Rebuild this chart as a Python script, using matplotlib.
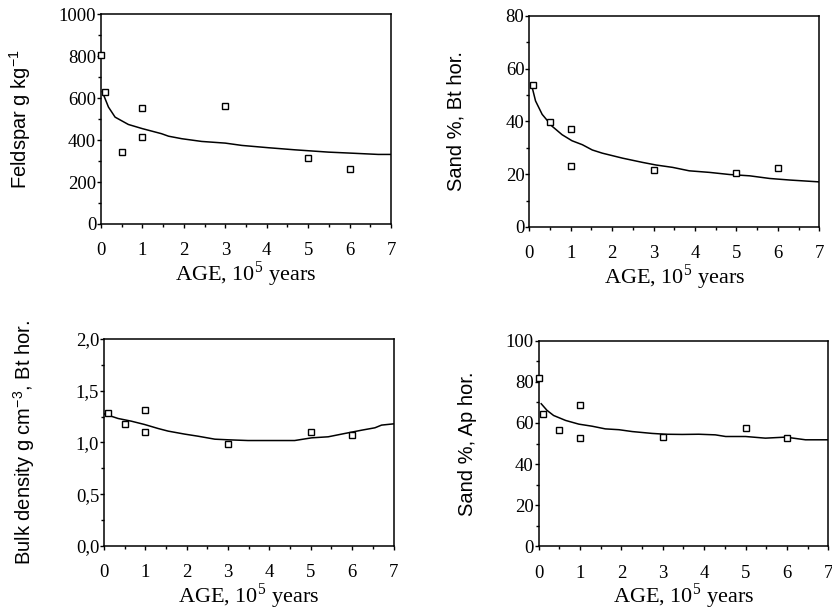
import numpy as np
import matplotlib
matplotlib.use("Agg")
import matplotlib.pyplot as plt
from matplotlib.ticker import MultipleLocator, FuncFormatter

plt.rcParams['mathtext.fontset'] = 'custom'
plt.rcParams['mathtext.rm'] = 'Liberation Serif'
plt.rcParams['mathtext.sf'] = 'Liberation Sans'

# measured samples (age in 10^5 years)
feld_age = [0.0, 0.1, 0.5, 1.0, 1.0, 3.0, 5.0, 6.0]
feld_val = [807, 632, 343, 555, 416, 563, 314, 262]
feld_fit_age = [0.03, 0.18, 0.34, 0.66, 1.0, 1.46, 1.63, 1.95, 2.43, 3.0, 3.4, 4.04, 4.68, 5.49, 6.05, 6.69, 7.0]
feld_fit_val = [632, 558, 510, 475, 455, 431, 419, 407, 394, 386, 375, 364, 354, 343, 338, 332, 332]

sandbt_age = [0.1, 0.5, 1.0, 1.0, 3.0, 5.0, 6.0]
sandbt_val = [53.9, 39.8, 37.3, 23.0, 21.5, 20.3, 22.2]
sandbt_fit_age = [0.06, 0.15, 0.31, 0.55, 0.79, 1.03, 1.28, 1.52, 1.76, 2.25, 2.73, 3.06, 3.46, 3.86,
                  4.35, 4.83, 5.32, 5.8, 6.29, 7.0]
sandbt_fit_val = [53.5, 47.8, 42.7, 38.2, 35.0, 32.7, 31.2, 29.2, 28.0, 26.1, 24.5, 23.5, 22.6, 21.3,
                  20.7, 19.9, 19.4, 18.4, 17.8, 17.1]

bulk_age = [0.1, 0.5, 1.0, 1.0, 3.0, 5.0, 6.0]
bulk_val = [1.284, 1.18, 1.313, 1.097, 0.984, 1.097, 1.071]
bulk_fit_age = [0.0, 0.34, 0.66, 0.98, 1.31, 1.55, 1.95, 2.27, 2.68, 3.0, 3.48, 4.05, 4.61, 5.02, 5.42,
                5.82, 6.23, 6.55, 6.71, 7.0]
bulk_fit_val = [1.277, 1.232, 1.206, 1.174, 1.135, 1.11, 1.081, 1.061, 1.032, 1.026, 1.019, 1.019, 1.019,
                1.045, 1.055, 1.087, 1.119, 1.142, 1.168, 1.18]

sandap_age = [0.0, 0.1, 0.5, 1.0, 1.0, 3.0, 5.0, 6.0]
sandap_val = [82.0, 64.1, 56.5, 68.8, 52.6, 53.2, 57.5, 52.8]
sandap_fit_age = [0.06, 0.2, 0.36, 0.65, 0.97, 1.29, 1.61, 1.94, 2.26, 2.74, 3.06, 3.47, 3.87, 4.27, 4.52,
                  5.0, 5.48, 5.97, 6.45, 7.0]
sandap_fit_val = [69.3, 66.1, 63.6, 61.2, 59.4, 58.4, 57.1, 56.7, 55.8, 54.9, 54.5, 54.4, 54.5, 54.2, 53.4,
                  53.4, 52.6, 53.1, 51.8, 51.8]

serif = 'Liberation Serif'
sans = 'Liberation Sans'
xlab = r'AGE, 10$^{\mathrm{5}}$ years'

fig = plt.figure(figsize=(8.32, 6.13), dpi=100)


def panel(rect, x, y, fx, fy, ymax, ymaj, ymin, ylabel, lab_x, comma=False):
    ax = fig.add_axes(rect)
    ax.plot(fx, fy, color='black', lw=1.1)
    ax.plot(x, y, ls='none', marker='s', ms=5, mfc='white', mec='black', mew=1.0, clip_on=False, zorder=5)
    ax.set_xlim(0, 7)
    ax.set_ylim(0, ymax)
    ax.xaxis.set_major_locator(MultipleLocator(1))
    ax.xaxis.set_minor_locator(MultipleLocator(0.5))
    ax.yaxis.set_major_locator(MultipleLocator(ymaj))
    ax.yaxis.set_minor_locator(MultipleLocator(ymin))
    if comma:
        ax.yaxis.set_major_formatter(FuncFormatter(lambda v, p: ('%.1f' % v).replace('.', ',')))
    ax.tick_params(which='both', direction='out', top=False, right=False, width=1.0)
    ax.tick_params(which='major', length=3)
    ax.tick_params(which='minor', length=2)
    ax.tick_params(axis='y', pad=0.5)
    ax.tick_params(axis='x', pad=10)
    for t in ax.get_xticklabels() + ax.get_yticklabels():
        t.set_fontfamily(serif)
        t.set_fontsize(13.5)
    for s in ax.spines.values():
        s.set_linewidth(1.1)
    ax.set_xlabel(xlab, fontfamily=serif, fontsize=16, labelpad=0)
    ax.set_ylabel(ylabel, fontfamily=sans, fontsize=14.5)
    ax.yaxis.set_label_coords(lab_x, 0.5)
    return ax


panel([0.1214, 0.6346, 0.3486, 0.3418], feld_age, feld_val, feld_fit_age, feld_fit_val,
      1000, 200, 100, r'Feldspar g kg$^{\mathsf{-1}}$', -0.234)
panel([0.6362, 0.6297, 0.3486, 0.3442], sandbt_age, sandbt_val, sandbt_fit_age, sandbt_fit_val,
      80, 20, 10, 'Sand %, Bt hor.', -0.22)
panel([0.125, 0.1093, 0.348, 0.3377], bulk_age, bulk_val, bulk_fit_age, bulk_fit_val,
      2.0, 0.5, 0.25, r'Bulk density g cm$^{\mathsf{-3}}$, Bt hor.', -0.231, comma=True)
panel([0.6475, 0.1085, 0.348, 0.336], sandap_age, sandap_val, sandap_fit_age, sandap_fit_val,
      100, 20, 10, 'Sand %, Ap hor.', -0.214)

fig.savefig('out.png', dpi=100)
